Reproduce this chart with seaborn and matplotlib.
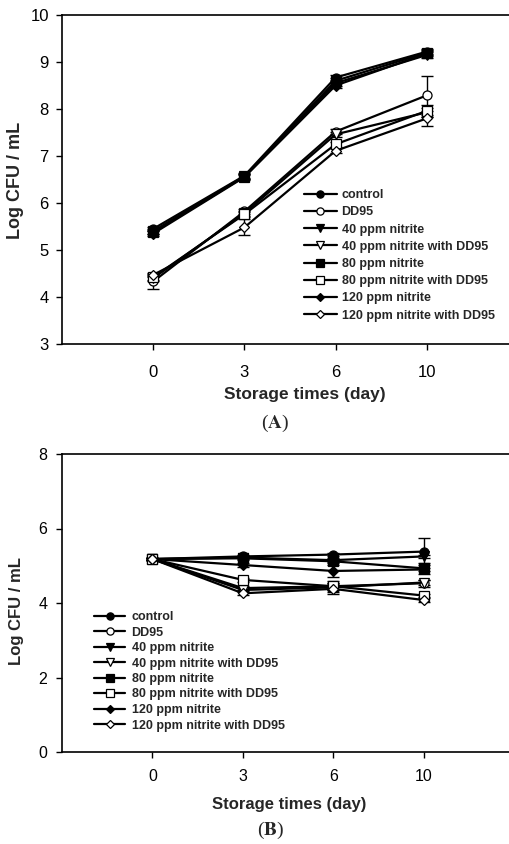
import numpy as np
import pandas as pd
import matplotlib
matplotlib.use("Agg")
import matplotlib.pyplot as plt
import seaborn as sns

sns.set_style("ticks")
plt.rcParams['font.family'] = ['Liberation Sans', 'DejaVu Sans']

days = ["0", "3", "6", "10"]
series = ["control", "DD95", "40 ppm nitrite", "40 ppm nitrite with DD95",
          "80 ppm nitrite", "80 ppm nitrite with DD95", "120 ppm nitrite",
          "120 ppm nitrite with DD95"]
markers = ["o", "o", "v", "v", "s", "s", "D", "D"]
filled = [True, False, True, False, True, False, True, False]

# Panel A values
a_control = [5.45, 6.58, 8.67, 9.22]
a_dd95 = [4.33, 5.82, 7.52, 8.29]
a_40 = [5.40, 6.57, 8.55, 9.15]
a_40dd = [4.40, 5.78, 7.46, 7.93]
a_80 = [5.38, 6.56, 8.60, 9.20]
a_80dd = [4.42, 5.76, 7.25, 7.96]
a_120 = [5.35, 6.55, 8.50, 9.18]
a_120dd = [4.47, 5.48, 7.11, 7.80]
a_err = [
    [0.05, 0.05, 0.06, 0.05],
    [0.16, 0.05, 0.05, 0.42],
    [0.05, 0.05, 0.05, 0.06],
    [0.05, 0.05, 0.05, 0.10],
    [0.05, 0.05, 0.05, 0.05],
    [0.05, 0.05, 0.05, 0.12],
    [0.05, 0.05, 0.05, 0.05],
    [0.05, 0.17, 0.05, 0.16],
]

# Panel B values
b_control = [5.18, 5.25, 5.30, 5.38]
b_dd95 = [5.18, 4.40, 4.45, 4.53]
b_40 = [5.18, 5.22, 5.15, 5.25]
b_40dd = [5.18, 4.35, 4.42, 4.55]
b_80 = [5.18, 5.20, 5.12, 4.93]
b_80dd = [5.18, 4.62, 4.45, 4.20]
b_120 = [5.18, 5.02, 4.86, 4.90]
b_120dd = [5.18, 4.26, 4.38, 4.08]
b_err = [
    [0.03, 0.05, 0.05, 0.36],
    [0.03, 0.05, 0.10, 0.10],
    [0.03, 0.05, 0.05, 0.05],
    [0.03, 0.05, 0.08, 0.08],
    [0.03, 0.05, 0.05, 0.15],
    [0.03, 0.05, 0.15, 0.05],
    [0.03, 0.05, 0.15, 0.05],
    [0.03, 0.05, 0.15, 0.05],
]

A_vals = [a_control, a_dd95, a_40, a_40dd, a_80, a_80dd, a_120, a_120dd]
B_vals = [b_control, b_dd95, b_40, b_40dd, b_80, b_80dd, b_120, b_120dd]

W, H = 509, 844
fig = plt.figure(figsize=(W / 100, H / 100), dpi=100)

def draw(ax, vals, errs, tick_fs, xpad, ypad):
    pos = np.arange(len(days))
    for name, v, e, m, f in zip(series, vals, errs, markers, filled):
        ax.errorbar(pos, v, yerr=e, fmt="none", ecolor="black", elinewidth=1.0,
                    capsize=4, capthick=1.0, zorder=2)
    handles = []
    for name, v, m, f in zip(series, vals, markers, filled):
        df = pd.DataFrame({"x": pos, "y": v})
        ms = 6.5 if m != "D" else 5.5
        sns.lineplot(data=df, x="x", y="y", ax=ax, color="black", linewidth=1.6,
                     marker=m, markersize=ms, markeredgecolor="black",
                     markeredgewidth=0.9,
                     markerfacecolor="black" if f else "white", zorder=3)
        handles.append(ax.lines[-1])
    ax.set_xticks(pos)
    ax.set_xticklabels(days)
    ax.set_xlim(-1, 4)
    ax.tick_params(axis="both", direction="out", length=4, width=1,
                   labelsize=tick_fs, colors="black")
    ax.tick_params(axis="x", pad=xpad)
    ax.tick_params(axis="y", pad=ypad)
    for s in ax.spines.values():
        s.set_linewidth(1.2)
        s.set_color("black")
    return handles

# ---- Panel A ----
axA = fig.add_axes([62 / W, (H - 344) / H, 456 / W, 329 / H])
hA = draw(axA, A_vals, a_err, 12, 11, 5.5)
axA.set_ylim(3, 10)
axA.set_yticks(range(3, 11))
axA.set_ylabel("Log CFU / mL", fontsize=13, fontweight="bold", va="center")
axA.set_xlabel("Storage times (day)", fontsize=12.5, fontweight="bold", va="center")
axA.yaxis.set_label_coords(16 / W, 1 - 180 / H, transform=fig.transFigure)
axA.xaxis.set_label_coords(305 / W, 1 - 395 / H, transform=fig.transFigure)
fig.legend(hA, series, loc="upper left", bbox_to_anchor=(304 / W, (H - 189) / H),
           frameon=False, prop={"weight": "bold", "size": 9}, borderpad=0,
           borderaxespad=0, handlelength=2.6, handletextpad=0.4,
           labelspacing=0.42, numpoints=1, markerscale=0.8)

# ---- Panel B ----
axB = fig.add_axes([62 / W, (H - 752) / H, 452 / W, 298 / H])
hB = draw(axB, B_vals, b_err, 11.5, 8.5, 6.5)
axB.set_ylim(0, 8)
axB.set_yticks(range(0, 9, 2))
axB.set_ylabel("Log CFU / mL", fontsize=12, fontweight="bold", va="center")
axB.set_xlabel("Storage times (day)", fontsize=12, fontweight="bold", va="center")
axB.yaxis.set_label_coords(17 / W, 1 - 611 / H, transform=fig.transFigure)
axB.xaxis.set_label_coords(289 / W, 1 - 805 / H, transform=fig.transFigure)
fig.legend(hB, series, loc="upper left", bbox_to_anchor=(94 / W, (H - 611) / H),
           frameon=False, prop={"weight": "bold", "size": 9}, borderpad=0,
           borderaxespad=0, handlelength=2.5, handletextpad=0.5,
           labelspacing=0.28, numpoints=1, markerscale=0.8)

fig.text(275 / W, 1 - 423 / H, r"($\mathbf{A}$)", ha="center", va="center",
         fontsize=14, family="Liberation Serif", math_fontfamily="stix")
fig.text(271 / W, 1 - 830 / H, r"($\mathbf{B}$)", ha="center", va="center",
         fontsize=14, family="Liberation Serif", math_fontfamily="stix")

fig.savefig("out.png", dpi=100, facecolor="white")
